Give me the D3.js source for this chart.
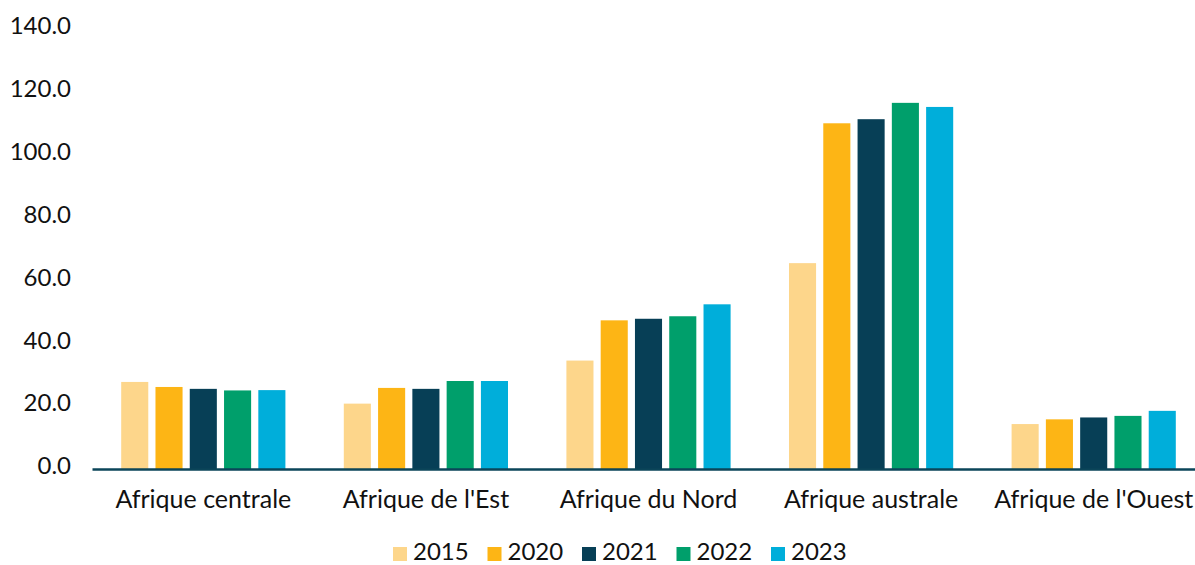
<!DOCTYPE html>
<meta charset="utf-8">
<style>
    body { margin: 0; background: #fff; }
    text { font-family: Lato, sans-serif; fill: #111; }
</style>
<svg class="chart"></svg>
<script src="https://d3js.org/d3.v7.min.js"></script>
<script>

    const regions = ["Afrique centrale", "Afrique de l'Est", "Afrique du Nord", "Afrique australe", "Afrique de l'Ouest"];
    const years = ["2015", "2020", "2021", "2022", "2023"];
    const v2015 = [27.7, 20.8, 34.5, 65.5, 14.3];
    const v2020 = [26.1, 25.8, 47.3, 110.0, 15.8];
    const v2021 = [25.5, 25.5, 47.8, 111.3, 16.4];
    const v2022 = [25.0, 28.0, 48.6, 116.5, 16.9];
    const v2023 = [25.1, 28.0, 52.4, 115.2, 18.5];
    const yTicks = [0, 20, 40, 60, 80, 100, 120, 140];
    const colors = ["#fdd68b", "#fdb515", "#073f56", "#009f6b", "#00aeda"];

    const series = [v2015, v2020, v2021, v2022, v2023];
    const data = regions.map((r, i) => ({
        region: r,
        values: years.map((yr, j) => ({year: yr, value: series[j][i]}))
    }));

    const width = 1195, height = 565;
    const plot = {left: 92, right: 1205, top: 29, bottom: 469};

    const svg = d3.select(".chart")
        .attr("width", width)
        .attr("height", height);

    let x0 = d3.scaleBand()
        .domain(regions)
        .range([plot.left, plot.right])
        .paddingInner(0.23)
        .paddingOuter(0.115);

    let x1 = d3.scaleBand()
        .domain(years)
        .range([0, x0.bandwidth()])
        .paddingInner(0.21)
        .paddingOuter(0.105);

    let y = d3.scaleLinear()
        .domain([0, 140])
        .range([plot.bottom, plot.top]);

    let color = d3.scaleOrdinal().domain(years).range(colors);

    // y labels, no axis line
    svg.append("g")
        .attr("transform", "translate(" + plot.left + ",0)")
        .call(d3.axisLeft(y).tickValues(yTicks).tickFormat(d3.format(".1f")).tickSize(0).tickPadding(21))
        .call(g => g.select(".domain").remove())
        .selectAll("text")
        .attr("font-size", 24)
        .attr("font-family", "Lato, sans-serif")
        .attr("fill", "#111")
        .attr("dy", "0.2em");

    let group = svg.selectAll("g.region")
        .data(data)
        .join("g")
        .attr("class", "region")
        .attr("transform", d => "translate(" + x0(d.region) + ",0)");

    group.selectAll("rect")
        .data(d => d.values)
        .join("rect")
        .attr("x", d => x1(d.year))
        .attr("y", d => y(d.value))
        .attr("width", x1.bandwidth())
        .attr("height", d => y(0) - y(d.value))
        .attr("fill", d => color(d.year));

    // x axis
    svg.append("g")
        .attr("transform", "translate(0," + plot.bottom + ")")
        .call(d3.axisBottom(x0).tickSize(0))
        .call(g => g.select(".domain").attr("stroke", "#0b4559").attr("stroke-width", 2.5))
        .selectAll("text")
        .attr("y", 39)
        .attr("dy", null)
        .attr("font-size", 25)
        .attr("font-family", "Lato, sans-serif")
        .attr("fill", "#111");

    // legend
    let legend = svg.append("g")
        .attr("transform", "translate(393,547)");

    let item = legend.selectAll("g")
        .data(years)
        .join("g")
        .attr("transform", (d, i) => "translate(" + (i * 94.5) + ",0)");

    item.append("rect")
        .attr("width", 14)
        .attr("height", 14)
        .attr("fill", d => color(d));

    item.append("text")
        .attr("x", 20)
        .attr("y", 13)
        .attr("font-size", 24)
        .text(d => d);

</script>
